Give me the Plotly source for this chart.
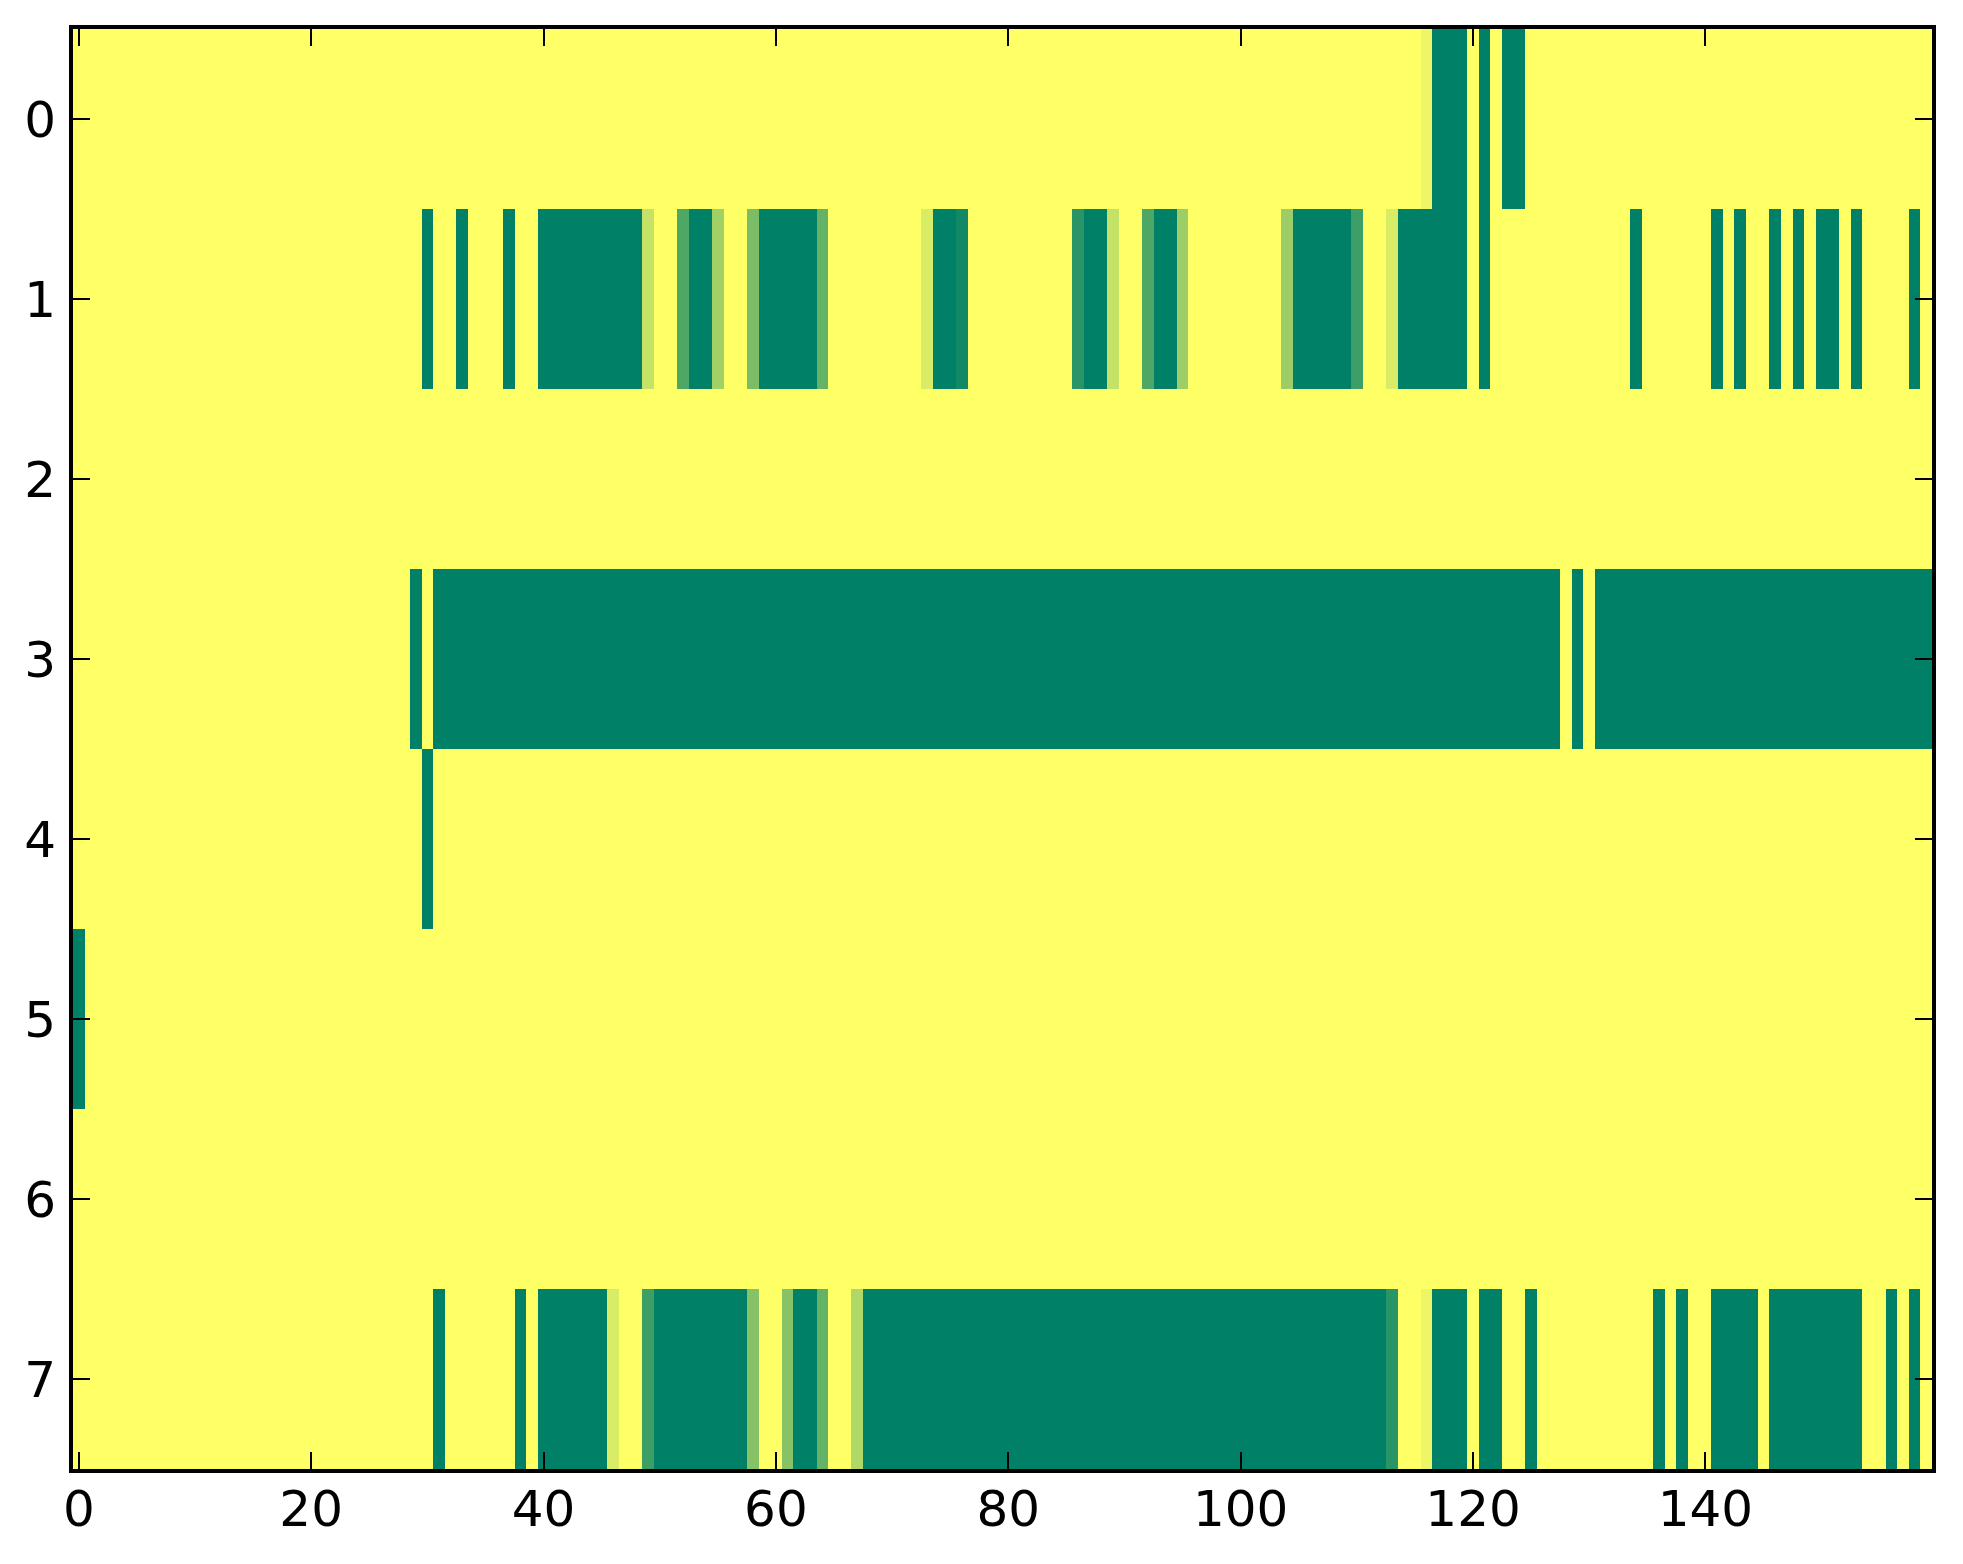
import plotly.graph_objects as go

# 8 rows x 160 columns, summer colormap (0 = green, 1 = yellow)
row0 = [
    1, 1, 1, 1, 1, 1, 1, 1, 1, 1, 1, 1, 1, 1, 1, 1, 1, 1, 1, 1,
    1, 1, 1, 1, 1, 1, 1, 1, 1, 1, 1, 1, 1, 1, 1, 1, 1, 1, 1, 1,
    1, 1, 1, 1, 1, 1, 1, 1, 1, 1, 1, 1, 1, 1, 1, 1, 1, 1, 1, 1,
    1, 1, 1, 1, 1, 1, 1, 1, 1, 1, 1, 1, 1, 1, 1, 1, 1, 1, 1, 1,
    1, 1, 1, 1, 1, 1, 1, 1, 1, 1, 1, 1, 1, 1, 1, 1, 1, 1, 1, 1,
    1, 1, 1, 1, 1, 1, 1, 1, 1, 1, 1, 1, 1, 1, 1, 1, .93, 0, 0, 0,
    1, 0, 1, 0, 0, 1, 1, 1, 1, 1, 1, 1, 1, 1, 1, 1, 1, 1, 1, 1,
    1, 1, 1, 1, 1, 1, 1, 1, 1, 1, 1, 1, 1, 1, 1, 1, 1, 1, 1, 1,
]
row1 = [
    1, 1, 1, 1, 1, 1, 1, 1, 1, 1, 1, 1, 1, 1, 1, 1, 1, 1, 1, 1,
    1, 1, 1, 1, 1, 1, 1, 1, 1, 1, 0, 1, 1, 0, 1, 1, 1, 0, 1, 1,
    0, 0, 0, 0, 0, 0, 0, 0, 0, .77, 1, 1, .31, 0, 0, .63, 1, 1, .48, 0,
    0, 0, 0, 0, .39, 1, 1, 1, 1, 1, 1, 1, 1, .85, 0, 0, .07, 1, 1, 1,
    1, 1, 1, 1, 1, 1, .16, 0, 0, .77, 1, 1, .31, 0, 0, .61, 1, 1, 1, 1,
    1, 1, 1, 1, .61, 0, 0, 0, 0, 0, .24, 1, 1, .85, 0, 0, 0, 0, 0, 0,
    1, 0, 1, 1, 1, 1, 1, 1, 1, 1, 1, 1, 1, 1, 0, 1, 1, 1, 1, 1,
    1, 0, 1, 0, 1, 1, 0, 1, 0, 1, 0, 0, 1, 0, 1, 1, 1, 1, 0, 1,
]
row2 = [
    1, 1, 1, 1, 1, 1, 1, 1, 1, 1, 1, 1, 1, 1, 1, 1, 1, 1, 1, 1,
    1, 1, 1, 1, 1, 1, 1, 1, 1, 1, 1, 1, 1, 1, 1, 1, 1, 1, 1, 1,
    1, 1, 1, 1, 1, 1, 1, 1, 1, 1, 1, 1, 1, 1, 1, 1, 1, 1, 1, 1,
    1, 1, 1, 1, 1, 1, 1, 1, 1, 1, 1, 1, 1, 1, 1, 1, 1, 1, 1, 1,
    1, 1, 1, 1, 1, 1, 1, 1, 1, 1, 1, 1, 1, 1, 1, 1, 1, 1, 1, 1,
    1, 1, 1, 1, 1, 1, 1, 1, 1, 1, 1, 1, 1, 1, 1, 1, 1, 1, 1, 1,
    1, 1, 1, 1, 1, 1, 1, 1, 1, 1, 1, 1, 1, 1, 1, 1, 1, 1, 1, 1,
    1, 1, 1, 1, 1, 1, 1, 1, 1, 1, 1, 1, 1, 1, 1, 1, 1, 1, 1, 1,
]
row3 = [
    1, 1, 1, 1, 1, 1, 1, 1, 1, 1, 1, 1, 1, 1, 1, 1, 1, 1, 1, 1,
    1, 1, 1, 1, 1, 1, 1, 1, 1, 0, 1, 0, 0, 0, 0, 0, 0, 0, 0, 0,
    0, 0, 0, 0, 0, 0, 0, 0, 0, 0, 0, 0, 0, 0, 0, 0, 0, 0, 0, 0,
    0, 0, 0, 0, 0, 0, 0, 0, 0, 0, 0, 0, 0, 0, 0, 0, 0, 0, 0, 0,
    0, 0, 0, 0, 0, 0, 0, 0, 0, 0, 0, 0, 0, 0, 0, 0, 0, 0, 0, 0,
    0, 0, 0, 0, 0, 0, 0, 0, 0, 0, 0, 0, 0, 0, 0, 0, 0, 0, 0, 0,
    0, 0, 0, 0, 0, 0, 0, 0, 1, 0, 1, 0, 0, 0, 0, 0, 0, 0, 0, 0,
    0, 0, 0, 0, 0, 0, 0, 0, 0, 0, 0, 0, 0, 0, 0, 0, 0, 0, 0, 0,
]
row4 = [
    1, 1, 1, 1, 1, 1, 1, 1, 1, 1, 1, 1, 1, 1, 1, 1, 1, 1, 1, 1,
    1, 1, 1, 1, 1, 1, 1, 1, 1, 1, 0, 1, 1, 1, 1, 1, 1, 1, 1, 1,
    1, 1, 1, 1, 1, 1, 1, 1, 1, 1, 1, 1, 1, 1, 1, 1, 1, 1, 1, 1,
    1, 1, 1, 1, 1, 1, 1, 1, 1, 1, 1, 1, 1, 1, 1, 1, 1, 1, 1, 1,
    1, 1, 1, 1, 1, 1, 1, 1, 1, 1, 1, 1, 1, 1, 1, 1, 1, 1, 1, 1,
    1, 1, 1, 1, 1, 1, 1, 1, 1, 1, 1, 1, 1, 1, 1, 1, 1, 1, 1, 1,
    1, 1, 1, 1, 1, 1, 1, 1, 1, 1, 1, 1, 1, 1, 1, 1, 1, 1, 1, 1,
    1, 1, 1, 1, 1, 1, 1, 1, 1, 1, 1, 1, 1, 1, 1, 1, 1, 1, 1, 1,
]
row5 = [
    0, 1, 1, 1, 1, 1, 1, 1, 1, 1, 1, 1, 1, 1, 1, 1, 1, 1, 1, 1,
    1, 1, 1, 1, 1, 1, 1, 1, 1, 1, 1, 1, 1, 1, 1, 1, 1, 1, 1, 1,
    1, 1, 1, 1, 1, 1, 1, 1, 1, 1, 1, 1, 1, 1, 1, 1, 1, 1, 1, 1,
    1, 1, 1, 1, 1, 1, 1, 1, 1, 1, 1, 1, 1, 1, 1, 1, 1, 1, 1, 1,
    1, 1, 1, 1, 1, 1, 1, 1, 1, 1, 1, 1, 1, 1, 1, 1, 1, 1, 1, 1,
    1, 1, 1, 1, 1, 1, 1, 1, 1, 1, 1, 1, 1, 1, 1, 1, 1, 1, 1, 1,
    1, 1, 1, 1, 1, 1, 1, 1, 1, 1, 1, 1, 1, 1, 1, 1, 1, 1, 1, 1,
    1, 1, 1, 1, 1, 1, 1, 1, 1, 1, 1, 1, 1, 1, 1, 1, 1, 1, 1, 1,
]
row6 = [
    1, 1, 1, 1, 1, 1, 1, 1, 1, 1, 1, 1, 1, 1, 1, 1, 1, 1, 1, 1,
    1, 1, 1, 1, 1, 1, 1, 1, 1, 1, 1, 1, 1, 1, 1, 1, 1, 1, 1, 1,
    1, 1, 1, 1, 1, 1, 1, 1, 1, 1, 1, 1, 1, 1, 1, 1, 1, 1, 1, 1,
    1, 1, 1, 1, 1, 1, 1, 1, 1, 1, 1, 1, 1, 1, 1, 1, 1, 1, 1, 1,
    1, 1, 1, 1, 1, 1, 1, 1, 1, 1, 1, 1, 1, 1, 1, 1, 1, 1, 1, 1,
    1, 1, 1, 1, 1, 1, 1, 1, 1, 1, 1, 1, 1, 1, 1, 1, 1, 1, 1, 1,
    1, 1, 1, 1, 1, 1, 1, 1, 1, 1, 1, 1, 1, 1, 1, 1, 1, 1, 1, 1,
    1, 1, 1, 1, 1, 1, 1, 1, 1, 1, 1, 1, 1, 1, 1, 1, 1, 1, 1, 1,
]
row7 = [
    1, 1, 1, 1, 1, 1, 1, 1, 1, 1, 1, 1, 1, 1, 1, 1, 1, 1, 1, 1,
    1, 1, 1, 1, 1, 1, 1, 1, 1, 1, 1, 0, 1, 1, 1, 1, 1, 1, 0, 1,
    0, 0, 0, 0, 0, 0, .85, 1, 1, .24, 0, 0, 0, 0, 0, 0, 0, 0, .53, 1,
    1, .53, 0, 0, .39, 1, 1, .69, 0, 0, 0, 0, 0, 0, 0, 0, 0, 0, 0, 0,
    0, 0, 0, 0, 0, 0, 0, 0, 0, 0, 0, 0, 0, 0, 0, 0, 0, 0, 0, 0,
    0, 0, 0, 0, 0, 0, 0, 0, 0, 0, 0, 0, 0, .16, 1, 1, .93, 0, 0, 0,
    1, 0, 0, 1, 1, 0, 1, 1, 1, 1, 1, 1, 1, 1, 1, 1, 0, 1, 0, 1,
    1, 0, 0, 0, 0, 1, 0, 0, 0, 0, 0, 0, 0, 0, 1, 1, 0, 1, 0, 1,
]

rows = [row0, row1, row2, row3, row4, row5, row6, row7]
x_ticks = [0, 20, 40, 60, 80, 100, 120, 140]
y_ticks = [0, 1, 2, 3, 4, 5, 6, 7]

summer = [[0, "rgb(0,128,102)"], [1, "rgb(255,255,102)"]]

fig = go.Figure(
    go.Heatmap(z=rows, colorscale=summer, zmin=0, zmax=1, showscale=False)
)

axis_style = dict(
    showline=True, linewidth=4, linecolor="black", mirror="ticks",
    ticks="inside", ticklen=17, tickwidth=2, tickcolor="black",
    showgrid=False, zeroline=False,
    tickfont=dict(family="DejaVu Sans", size=50, color="black"),
)

fig.update_xaxes(range=[-0.5, 159.5], tickvals=x_ticks,
                 ticklabelstandoff=-7, **axis_style)
fig.update_yaxes(range=[7.5, -0.5], tickvals=y_ticks,
                 ticklabelstandoff=3, **axis_style)

# page body adds 8px margin, so shrink the figure to keep the plot in place
fig.update_layout(
    width=1955, height=1556,
    margin=dict(l=65, r=31, t=21, b=95),
    paper_bgcolor="white", plot_bgcolor="white",
)

fig.write_html("out.html")
